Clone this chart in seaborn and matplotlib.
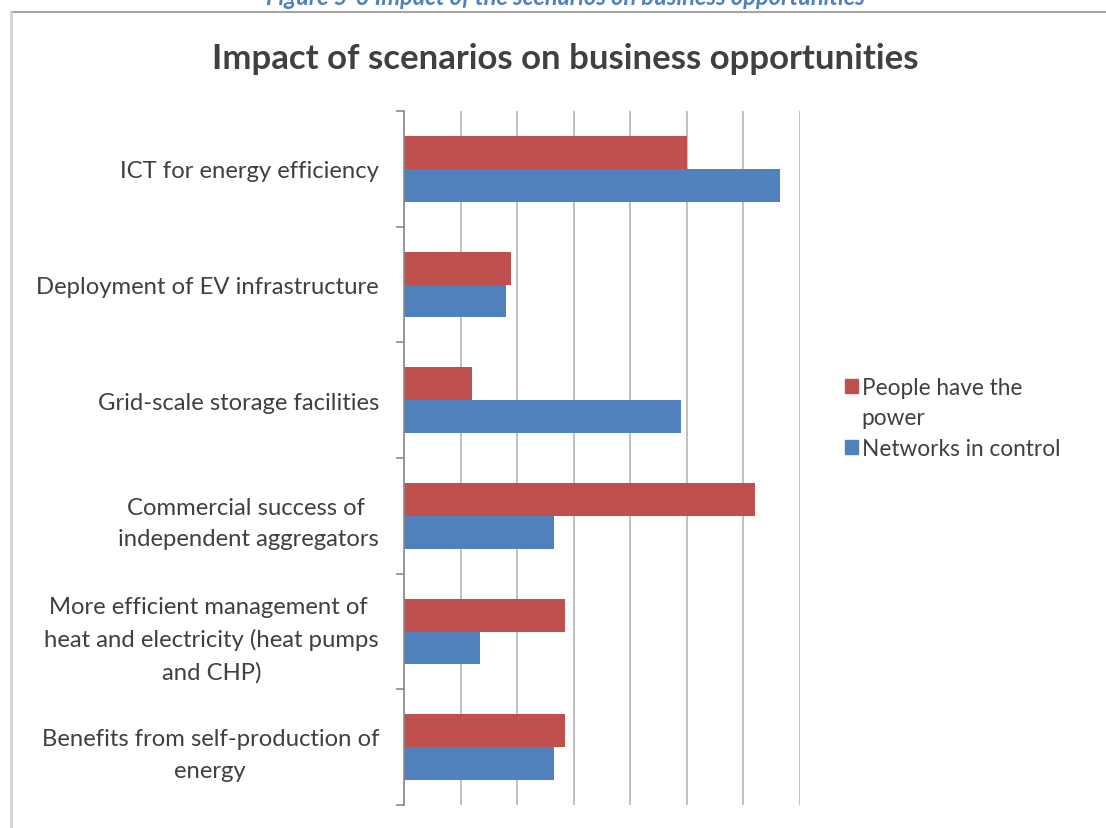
import matplotlib
matplotlib.use("Agg")
import matplotlib.pyplot as plt
from matplotlib.lines import Line2D
from matplotlib.patches import Rectangle
import seaborn as sns
import pandas as pd
import numpy as np

# Opportunity categories (top to bottom)
categories = [
    "ICT for energy efficiency",
    "Deployment of EV infrastructure",
    "Grid-scale storage facilities",
    "Commercial success of \nindependent aggregators",
    "More efficient management of \nheat and electricity (heat pumps\nand CHP)",
    "Benefits from self-production of\nenergy",
]
scenarios = ["People have the power", "Networks in control"]
# Legend rows; the first scenario name wraps onto a second row
legend_rows = ["People have the", "power", "Networks in control"]

people_have_the_power = [5.0, 1.9, 1.2, 6.2, 2.85, 2.85]
networks_in_control = [6.65, 1.8, 4.9, 2.65, 1.35, 2.65]

colors = ["#C0504D", "#4F81BD"]
text_color = "#404040"
font = "Lato"

df = pd.DataFrame({
    "category": categories * 2,
    "scenario": [scenarios[0]] * len(categories) + [scenarios[1]] * len(categories),
    "value": people_have_the_power + networks_in_control,
})

sns.set_theme(style="white")
plt.rcParams["font.family"] = [font, "DejaVu Sans"]

W, H = 1106, 829
fig = plt.figure(figsize=(W / 100, H / 100), dpi=100)
ax = fig.add_axes([404 / W, 1 - 806 / H, (800 - 404) / W, (806 - 112) / H])

sns.barplot(data=df, y="category", x="value", hue="scenario", hue_order=scenarios,
            order=categories, orient="h", palette=colors, saturation=1,
            width=0.57, linewidth=0, ax=ax, legend=False)

ax.set_xlim(0, 7)
ax.set_ylim(len(categories) - 0.5, -0.5)
ax.set_xlabel("")
ax.set_ylabel("")
ax.set_xticks(np.arange(0, 8))
ax.set_xticklabels([])
ax.tick_params(axis="x", length=0)
ax.xaxis.grid(True, color="#b5b5b5", linewidth=1.2)
ax.set_axisbelow(True)

ax.set_yticks(np.arange(len(categories)))
ax.set_yticklabels(categories, fontsize=17.2, color=text_color, linespacing=1.62,
                   multialignment="center")
ax.tick_params(axis="y", which="major", length=0, pad=18)
ax.set_yticks(np.arange(-0.5, len(categories)), minor=True)
ax.tick_params(axis="y", which="minor", length=6, width=1.2, color="#8a8a8a", left=True)

for s in ["top", "right", "bottom"]:
    ax.spines[s].set_visible(False)
ax.spines["left"].set_color("#8a8a8a")
ax.spines["left"].set_linewidth(1.2)

# Legend: colour swatch on the first row of each entry
handles = [Rectangle((0, 0), 1, 1, color=colors[0]),
           Rectangle((0, 0), 1, 1, color="none", linewidth=0),
           Rectangle((0, 0), 1, 1, color=colors[1])]
leg = fig.legend(handles, legend_rows, loc="upper left",
                 bbox_to_anchor=(836 / W, 1 - 369 / H), frameon=False,
                 fontsize=16.3, handlelength=0.56, handleheight=0.56,
                 handletextpad=0.17, labelspacing=0.41, borderaxespad=0)
for t in leg.get_texts():
    t.set_color(text_color)

# Title
fig.text(565 / W, 1 - 59 / H, "Impact of scenarios on business opportunities",
         ha="center", va="center", fontsize=25, fontweight="bold", color=text_color)

# Caption above the chart frame
fig.text(565 / W, 1 - 5 / H, "Figure 5-3 Impact of the scenarios on business opportunities",
         ha="center", va="baseline", fontsize=17, fontweight="bold", style="italic",
         color="#4F81BD")

# Chart frame
fig.add_artist(Line2D([11 / W, 1], [1 - 13 / H, 1 - 13 / H], transform=fig.transFigure,
                      color="#a6a6a6", linewidth=1.5))
fig.add_artist(Line2D([11 / W, 11 / W], [0, 1 - 13 / H], transform=fig.transFigure,
                      color="#d4d4d4", linewidth=2))

fig.savefig("out.png", dpi=100)
